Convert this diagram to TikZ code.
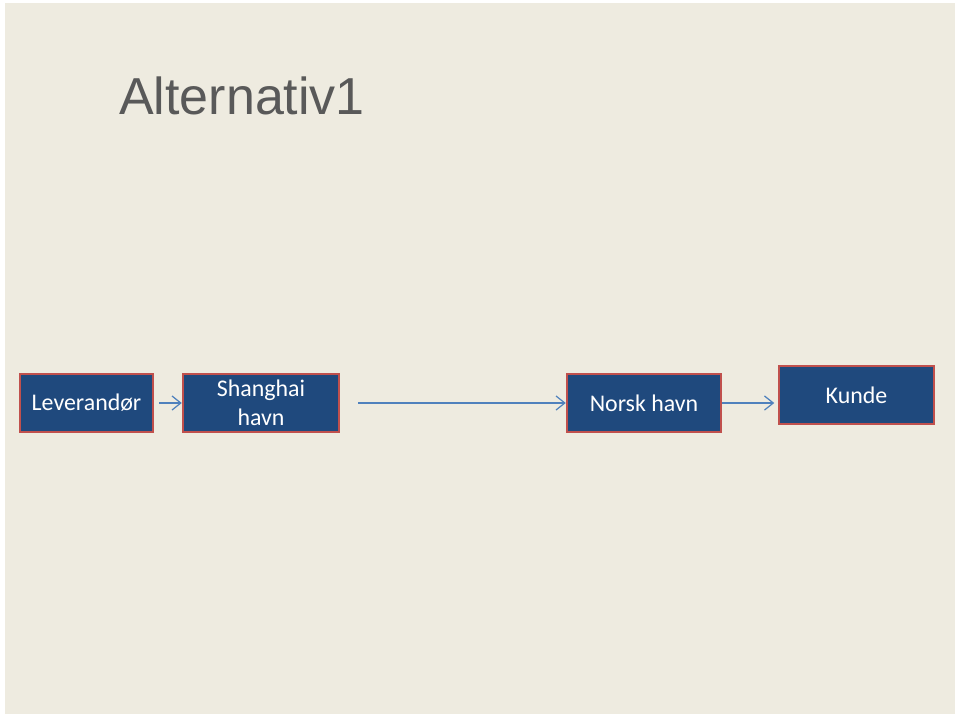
\documentclass[tikz,border=0pt]{standalone}
\usepackage{fontspec}
\setmainfont{Carlito}
\newfontfamily\titlefont{Liberation Sans}
\definecolor{slidebg}{HTML}{EEEBE0}
\definecolor{slidegray}{HTML}{595959}
\definecolor{boxblue}{HTML}{1F497D}
\definecolor{boxred}{HTML}{C0504D}
\definecolor{flowblue}{HTML}{4F81BD}
\usetikzlibrary{arrows.meta,positioning}

\begin{document}
\begin{tikzpicture}[x=0.02cm,y=-0.02cm,
  stage/.style={draw=boxred, fill=boxblue, line width=1.4pt,
                minimum height=1.16cm, align=center, text=white,
                font=\fontsize{13.6}{15}\selectfont, inner sep=1pt},
  flow/.style={draw=flowblue, line width=0.7pt, -{Straight Barb[length=5pt,width=8pt]}}
]
\fill[white] (0,0) rectangle (960,717);
\fill[slidebg] (5,3) rectangle (955,714);
\useasboundingbox (0,0) rectangle (960,717);

\node[font=\titlefont\fontsize{29.6}{32}\selectfont, text=slidegray, anchor=west]
  (title) at (113,96) {Alternativ1};

\node[stage, minimum width=2.66cm] (lev)    at (86.5,403) {Leverand\o r};
\node[stage, minimum width=3.12cm, font=\fontsize{13.6}{16.2}\selectfont]
  (shang)  at (261,403)  {Shanghai\\havn};
\node[stage, minimum width=3.08cm] (norsk)  at (644,403)  {Norsk havn};
\node[stage, minimum width=3.10cm] (kunde)  at (856.5,395) {Kunde};

\coordinate (sea) at (358,403);
\draw[flow] ([xshift=3pt]lev.east) -- (shang.west);
\draw[flow] (sea) -- (norsk.west);
\draw[flow] (norsk.east) -- ([xshift=-2pt]kunde.west |- norsk.east);

\end{tikzpicture}
\end{document}
